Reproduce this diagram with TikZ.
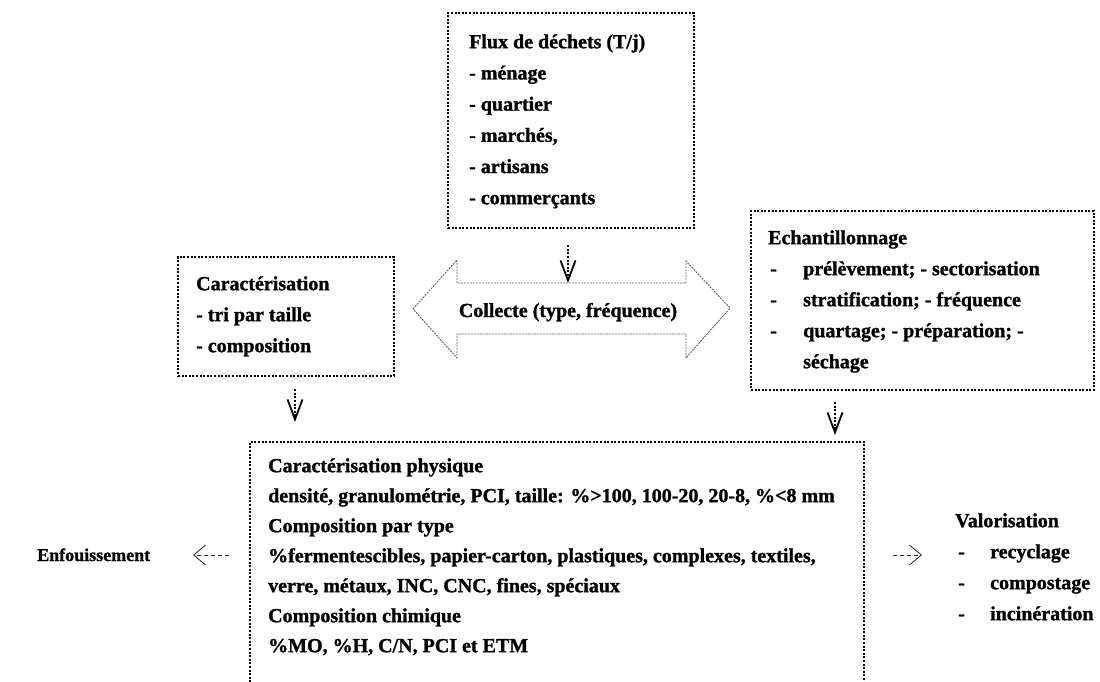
\documentclass[tikz,border=0pt]{standalone}
\usepackage{fontspec}
\setmainfont{Liberation Serif}[BoldFeatures={FakeBold=1.2}]
\usetikzlibrary{arrows.meta,calc}

\tikzset{
  dotbox/.style={draw=black, line width=2.1pt, dash pattern=on 2pt off 1.6pt},
  txt/.style={inner sep=0pt, align=left, font=\bfseries\fontsize{20}{#1}\selectfont},
  txt/.default=31,
  plain/.style={inner sep=0pt, font=\bfseries\fontsize{20}{24}\selectfont},
  flow/.style={line width=1.8pt, dash pattern=on 2pt off 1.6pt,
    -{Straight Barb[length=20pt,width=15pt,line width=1.8pt]}},
  side/.style={line width=0.8pt, draw=black!85, dash pattern=on 4pt off 3pt,
    -{Straight Barb[length=12pt,width=20pt,line width=0.8pt]}},
  bigarrow/.style={draw=black!60, line width=0.9pt, dash pattern=on 2pt off 1pt}
}

\begin{document}
\begin{tikzpicture}[x=1pt,y=-1pt]
\useasboundingbox (0,0) rectangle (1100,682);

% --- boxes ---
\node (flux) [dotbox, anchor=north west, minimum width=246pt, minimum height=215pt] at (447,12) {};
\node (carac) [dotbox, anchor=north west, minimum width=216pt, minimum height=119pt] at (177,256) {};
\node (echant) [dotbox, anchor=north west, minimum width=343pt, minimum height=179pt] at (750,210) {};
\node (phys) [anchor=north west, inner sep=0pt, minimum width=614pt, minimum height=240pt] at (250,442) {};
\draw[dotbox] (phys.south west) -- (phys.north west) -- (phys.north east) -- (phys.south east);

% --- collection double arrow ---
\draw[bigarrow] (413,309) -- (457,260) -- (457,283) -- (686,283) -- (686,261)
  -- (730,308) -- (686,358) -- (686,334) -- (457,334) -- (457,358) -- cycle;
\node (collecte) [plain, anchor=base] at (568,317) {Collecte (type, fréquence)};
\coordinate (collecteTop) at (568,283);

% --- texts ---
\node (fluxtxt) [txt=31.2, anchor=north west] at (469,26.2)
  {\strut Flux de déchets (T/j)\\- ménage\\- quartier\\- marchés,\\- artisans\\- commerçants};

\node (caractxt) [txt, anchor=north west] at (196,268.3)
  {\strut Caractérisation\\- tri par taille\\- composition};

\node (echtitle) [txt, anchor=north west] at (768,222.3) {\strut Echantillonnage};
\node (echdash) [txt, anchor=north west] at (770,253.3) {\strut -\\-\\-};
\node (echitems) [txt, anchor=north west] at (803,253.3)
  {\strut prélèvement; - sectorisation\\stratification; - fréquence\\quartage; - préparation; -\\séchage};

\node (physitems) [txt=30, anchor=north west] at (268,451)
  {\strut Caractérisation physique\\
   densité, granulométrie, PCI, taille: \%>100, 100-20, 20-8, \%<8 mm\\
   Composition par type\\
   \%fermentescibles, papier-carton, plastiques, complexes, textiles,\\
   verre, métaux, INC, CNC, fines, spéciaux\\
   Composition chimique\\
   \%MO, \%H, C/N, PCI et ETM};

\node (enf) [plain, anchor=base west, font=\bfseries\fontsize{18}{22}\selectfont] at (37,561) {Enfouissement};

\node (valtitle) [txt, anchor=north west] at (955,505.3) {\strut Valorisation};
\node (valdash) [txt, anchor=north west] at (958,536.3) {\strut -\\-\\-};
\node (valitems) [txt, anchor=north west] at (990,536.3)
  {\strut recyclage\\compostage\\incinération};

% --- connectors ---
\draw[flow, shorten <=16pt] (flux.south -| collecteTop) -- (collecteTop);
\draw[flow, shorten <=12pt, shorten >=20pt] (carac.south -| 295,0) -- (phys.north -| 295,0);
\draw[flow, shorten <=11pt, shorten >=7pt] (echant.south -| 835,0) -- (phys.north -| 835,0);

\coordinate (enfEnd) at (193,555);
\coordinate (valEnd) at (922,555);
\draw[side] (phys.west |- enfEnd) ++(-21,0) -- (enfEnd);
\draw[side] (phys.east |- valEnd) ++(29,0) -- (valEnd);
\end{tikzpicture}
\end{document}
